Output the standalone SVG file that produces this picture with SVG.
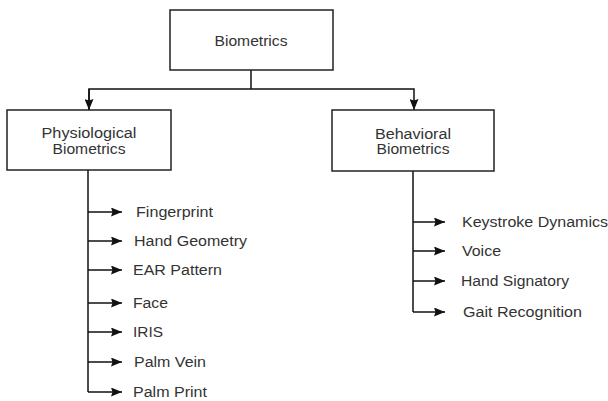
<svg xmlns="http://www.w3.org/2000/svg" width="608" height="401" viewBox="0 0 608 401">
<style>
.box{fill:#fff;stroke:#222;stroke-width:1.5}
.ln{fill:none;stroke:#111;stroke-width:1.5}
.t{font-family:"Liberation Sans",Arial,sans-serif;font-size:14px;fill:#333}
.c{text-anchor:middle}
</style>
<defs>
<marker id="ah" viewBox="0 0 11 9" refX="11" refY="4.5" markerWidth="11" markerHeight="9" markerUnits="userSpaceOnUse" orient="auto">
<path d="M0,0 L11,4.5 L0,9 L1.5,4.5 Z" fill="#111"/>
</marker>
</defs>
<rect width="608" height="401" fill="#fff"/>
<g id="connectors">
<path class="ln" d="M251,70 V89"/>
<path class="ln" d="M89,110 V89 H414 V110" marker-end="url(#ah)"/>
<path class="ln" d="M89,89 V110" marker-end="url(#ah)"/>
<path class="ln" d="M88,170 V392"/>
<path class="ln" d="M88,212 H122" marker-end="url(#ah)"/>
<path class="ln" d="M88,241 H122" marker-end="url(#ah)"/>
<path class="ln" d="M88,270 H122" marker-end="url(#ah)"/>
<path class="ln" d="M88,303 H122" marker-end="url(#ah)"/>
<path class="ln" d="M88,332 H122" marker-end="url(#ah)"/>
<path class="ln" d="M88,362 H122" marker-end="url(#ah)"/>
<path class="ln" d="M88,392 H122" marker-end="url(#ah)"/>
<path class="ln" d="M413,171 V312"/>
<path class="ln" d="M413,222 H445" marker-end="url(#ah)"/>
<path class="ln" d="M413,251 H445" marker-end="url(#ah)"/>
<path class="ln" d="M413,281 H445" marker-end="url(#ah)"/>
<path class="ln" d="M413,312 H445" marker-end="url(#ah)"/>
</g>
<g id="biometrics">
<rect class="box" x="170" y="10" width="163" height="60"/>
<text class="t c" x="251" y="46" textLength="73" lengthAdjust="spacingAndGlyphs">Biometrics</text>
</g>
<g id="physiological">
<rect class="box" x="7" y="110" width="164" height="60"/>
<text class="t c" x="89" y="138" textLength="95" lengthAdjust="spacingAndGlyphs">Physiological</text>
<text class="t c" x="89" y="154" textLength="73" lengthAdjust="spacingAndGlyphs">Biometrics</text>
</g>
<g id="behavioral">
<rect class="box" x="332" y="110" width="162" height="61"/>
<text class="t c" x="413" y="139" textLength="76" lengthAdjust="spacingAndGlyphs">Behavioral</text>
<text class="t c" x="413" y="154" textLength="73" lengthAdjust="spacingAndGlyphs">Biometrics</text>
</g>
<g id="fingerprint"><text class="t" x="136" y="217" textLength="77" lengthAdjust="spacingAndGlyphs">Fingerprint</text></g>
<g id="hand-geometry"><text class="t" x="134" y="246" textLength="113" lengthAdjust="spacingAndGlyphs">Hand Geometry</text></g>
<g id="ear-pattern"><text class="t" x="133" y="275" textLength="89" lengthAdjust="spacingAndGlyphs">EAR Pattern</text></g>
<g id="face"><text class="t" x="133" y="308" textLength="35" lengthAdjust="spacingAndGlyphs">Face</text></g>
<g id="iris"><text class="t" x="133" y="337" textLength="30" lengthAdjust="spacingAndGlyphs">IRIS</text></g>
<g id="palm-vein"><text class="t" x="134" y="367" textLength="72" lengthAdjust="spacingAndGlyphs">Palm Vein</text></g>
<g id="palm-print"><text class="t" x="133" y="397" textLength="74" lengthAdjust="spacingAndGlyphs">Palm Print</text></g>
<g id="keystroke"><text class="t" x="462" y="227" textLength="146" lengthAdjust="spacingAndGlyphs">Keystroke Dynamics</text></g>
<g id="voice"><text class="t" x="462" y="256" textLength="39" lengthAdjust="spacingAndGlyphs">Voice</text></g>
<g id="hand-signatory"><text class="t" x="461" y="286" textLength="108" lengthAdjust="spacingAndGlyphs">Hand Signatory</text></g>
<g id="gait"><text class="t" x="463" y="317" textLength="119" lengthAdjust="spacingAndGlyphs">Gait Recognition</text></g>
</svg>
